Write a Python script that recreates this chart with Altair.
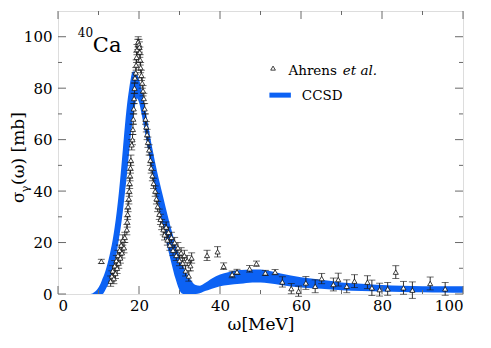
import altair as alt
import pandas as pd

# CCSD band (upper / lower edges)
band_x = [8, 8.5, 9, 9.5, 10, 10.5, 11, 11.5, 12, 12.5, 13, 13.5, 14, 14.5, 15, 15.5, 16, 16.5,
          17, 17.5, 18, 18.5, 19, 19.5, 20, 20.5, 21, 21.5, 22, 22.5, 23, 23.5, 24,
          25, 26, 27, 28, 29, 30, 31, 32, 33, 34, 35, 36, 37, 38,
          40, 42, 45, 48, 50, 52, 55,
          60, 65, 70, 75, 80, 85, 90, 95, 100]
band_hi = [0, 0.2, 0.8, 1.5, 2.5, 4, 6, 8, 10.5, 13.5, 17, 21, 26, 32, 39, 47, 56, 65,
           73, 79, 84, 86.5, 86.5, 85.5, 83.5, 80.5, 77, 72.5, 68, 63.5, 59, 55, 51,
           44, 37.5, 31, 25, 19.5, 14.5, 10.5, 7.5, 5, 3.5, 3.2, 4, 5, 6,
           7.6, 8.5, 9.3, 9.5, 9.5, 9, 8,
           6.5, 5.5, 4.5, 4, 3.5, 3.2, 3, 3, 3]
band_lo = [0, 0, 0, 0, 0, 0, 0, 1, 2.5, 4, 6, 9, 12, 16, 21, 26, 32, 39,
           46, 54, 62, 68, 73, 76, 74.5, 71, 67, 62.5, 58, 53.5, 49, 45, 41,
           33, 25.5, 18.5, 12, 6, 1.5, 0, 0, 0, 0, 0.3, 1, 1.5, 2,
           3, 3.5, 4, 4.5, 4.5, 4.2, 3.5,
           2.5, 2, 1.5, 1.2, 1, 0.8, 0.7, 0.6, 0.5]

# Ahrens et al. data
pt_x = [10.7,
        13.0, 13.3, 13.5, 13.8, 14.0, 14.2, 14.4, 14.6, 14.8, 15.0, 15.2, 15.4, 15.6, 15.8, 16.0, 16.3, 16.5,
        17.0, 17.1, 17.2, 17.3, 17.5, 17.6, 17.7, 17.8, 17.9, 18.0, 18.2,
        18.4, 18.5, 18.6, 18.7, 18.8, 18.9, 19.0,
        19.2, 19.3, 19.4, 19.5, 19.7, 19.8, 20.0, 20.1, 20.2, 20.3, 20.4, 20.6, 20.8,
        21.0, 21.2, 21.4, 21.6, 21.8, 22.0, 22.2, 22.5, 22.8, 23.0, 23.3, 23.6, 24.0, 24.3, 24.6,
        25.0, 25.3, 25.6, 26.0, 26.3, 26.7, 27.0, 27.3, 27.6, 28.0, 28.4, 28.8, 29.2, 29.6,
        30.0, 30.4, 30.8, 31.2, 31.5, 31.9, 32.3, 32.7, 33.0,
        36.8, 39.4, 40.9, 43.0, 44.2, 47.3, 49.0, 51.2, 53.6, 55.4, 57.6, 59.4, 61.2, 63.5,
        65.1, 68.0, 69.2, 71.3, 73.2, 76.4, 77.5, 79.4, 81.4, 83.4, 85.3, 87.5, 91.9, 95.6]
pt_y = [12.7,
        5, 7, 9, 6, 11, 8, 13, 10, 15, 12, 17, 14, 19, 16, 21, 18, 22,
        25, 28, 31, 34, 37, 40, 43, 46, 49, 52, 58,
        60, 64, 68, 72, 76, 80, 84,
        86, 89, 92, 95, 97, 98, 97, 96, 94, 91, 88, 85, 82,
        79, 76, 72, 68, 65, 62, 59, 56, 52, 49, 46, 43, 40, 37, 34,
        31, 29, 27, 25, 23, 26, 21, 24, 19, 22, 17, 20, 15, 18,
        13, 16, 12, 15, 9, 13, 7, 11, 14,
        15, 16.4, 10.8, 7.6, 8.6, 9.8, 11.8, 8.2, 8.5, 4.7, 2.1, 1.1, 4.3, 3.0,
        6.0, 3.7, 5.6, 3.0, 5.0, 4.6, 2.4, 1.7, 2.0, 8.5, 2.4, 1.5, 4.1, 2.0]
pt_err = [0.8] + [2.0] * 88 + \
         [1.3, 1.3, 1.0, 1.3, 1.0, 1.0, 1.0, 2.0, 2.0, 2.0, 2.5, 2.5, 2.0, 2.5,
          2.5, 2.5, 2.5, 2.5, 3.0, 2.5, 2.5, 2.5, 2.5, 3.2, 2.5, 2.5, 2.5, 2.5]

x_major = [0, 20, 40, 60, 80, 100]
x_minor = [10, 30, 50, 70, 90]
y_major = [0, 20, 40, 60, 80, 100]
y_minor = [10, 30, 50, 70, 90]

W, H = 405, 283
FONT = "DejaVu Serif"
BLUE = "#0c62f4"
FRAME = "#6a6a6a"

band = pd.DataFrame({"x": band_x, "y": band_hi, "y2": band_lo})
n = min(len(pt_x), len(pt_y), len(pt_err))
pts = pd.DataFrame({"x": pt_x[:n], "y": pt_y[:n], "e": pt_err[:n]})
pts["lo"] = pts["y"] - pts["e"]
pts["hi"] = pts["y"] + pts["e"]

xs = alt.Scale(domain=[0, 100], nice=False, zero=False)
ys = alt.Scale(domain=[0, 110], nice=False, zero=False)

AX = alt.Axis(values=x_major, ticks=False, domain=False, grid=False, labelFont=FONT,
              labelFontSize=15, labelColor="black", labelPadding=4, title="ω[MeV]",
              titleFont=FONT, titleFontSize=17, titleFontWeight="normal", titleColor="black",
              titlePadding=3, format="d")
AY = alt.Axis(values=y_major, ticks=False, domain=False, grid=False, labelFont=FONT,
              labelFontSize=15, labelColor="black", labelPadding=6, title=None, format="d")

base_band = alt.Chart(band).mark_area(color=BLUE, opacity=1, interpolate="monotone").encode(
    x=alt.X("x:Q", scale=xs, axis=AX),
    y=alt.Y("y:Q", scale=ys, axis=AY),
    y2="y2:Q",
)

err_line = alt.Chart(pts).mark_rule(color="#1a1a1a", strokeWidth=0.9).encode(
    x=alt.X("x:Q", scale=xs, axis=AX),
    y=alt.Y("lo:Q", scale=ys, axis=AY),
    y2="hi:Q",
)
cap_lo = alt.Chart(pts).mark_tick(color="#1a1a1a", orient="horizontal", size=7, thickness=0.9).encode(
    x=alt.X("x:Q", scale=xs, axis=AX),
    y=alt.Y("lo:Q", scale=ys, axis=AY),
)
cap_hi = alt.Chart(pts).mark_tick(color="#1a1a1a", orient="horizontal", size=7, thickness=0.9).encode(
    x=alt.X("x:Q", scale=xs, axis=AX),
    y=alt.Y("hi:Q", scale=ys, axis=AY),
)
markers = alt.Chart(pts).mark_point(shape="triangle-up", size=26, filled=True, fill="white",
                                    stroke="#111", strokeWidth=0.8, opacity=1).encode(
    x=alt.X("x:Q", scale=xs, axis=AX),
    y=alt.Y("y:Q", scale=ys, axis=AY),
)

xt_major = pd.DataFrame({"x": x_major})
xt_minor = pd.DataFrame({"x": x_minor})
yt_major = pd.DataFrame({"y": y_major})
yt_minor = pd.DataFrame({"y": y_minor})


def xticks(df, L):
    bot = alt.Chart(df).mark_rule(color=FRAME, strokeWidth=1).encode(
        x=alt.X("x:Q", scale=xs, axis=AX), y=alt.value(H), y2=alt.value(H - L))
    top = alt.Chart(df).mark_rule(color=FRAME, strokeWidth=1).encode(
        x=alt.X("x:Q", scale=xs, axis=AX), y=alt.value(0), y2=alt.value(L))
    return [bot, top]


def yticks(df, L):
    left = alt.Chart(df).mark_rule(color=FRAME, strokeWidth=1).encode(
        y=alt.Y("y:Q", scale=ys, axis=AY), x=alt.value(0), x2=alt.value(L))
    right = alt.Chart(df).mark_rule(color=FRAME, strokeWidth=1).encode(
        y=alt.Y("y:Q", scale=ys, axis=AY), x=alt.value(W), x2=alt.value(W - L))
    return [left, right]


ticks = xticks(xt_major, 8) + xticks(xt_minor, 4) + yticks(yt_major, 8) + yticks(yt_minor, 4)


def label(txt, size, x, y, style="normal", angle=0):
    return alt.Chart(pd.DataFrame({"t": [txt]})).mark_text(
        font=FONT, fontSize=size, fontStyle=style, align="left", baseline="alphabetic",
        color="black", angle=angle).encode(x=x, y=y, text="t:N")


# y-axis title built from pieces (sigma with subscript gamma)
ytitle = [
    label("σ", 17, alt.value(-34), alt.value(192), angle=270),
    label("γ", 11.5, alt.value(-29.5), alt.value(181.5), angle=270),
    label("(ω) [mb]", 17, alt.value(-34), alt.value(174), angle=270),
]

# annotations
ca = label("Ca", 21, alt.datum(8.6), alt.datum(94.0))
ca40 = label("40", 12, alt.datum(4.9), alt.datum(99.8))

leg_tri = alt.Chart(pd.DataFrame({"t": [1]})).mark_point(
    shape="triangle-up", size=22, filled=True, fill="white", stroke="#111", strokeWidth=0.8, opacity=1).encode(
    x=alt.datum(53.1), y=alt.datum(87.8))
leg_t1 = label("Ahrens", 13.5, alt.datum(56.9), alt.datum(85.3))
leg_t2 = label("et al.", 13.5, alt.datum(70.3), alt.datum(85.3), style="italic")
leg_bar = alt.Chart(pd.DataFrame({"t": [1]})).mark_rule(color=BLUE, strokeWidth=5).encode(
    x=alt.datum(52.2), x2=alt.datum(57.5), y=alt.datum(77.3))
leg_t3 = label("CCSD", 13.5, alt.datum(60.2), alt.datum(75.4))

chart = alt.layer(base_band, err_line, cap_lo, cap_hi, markers, *ticks, *ytitle,
                  ca, ca40, leg_tri, leg_t1, leg_t2, leg_bar, leg_t3).properties(
    width=W, height=H, autosize="none",
    padding={"left": 50, "top": 3, "right": 20, "bottom": 50},
).configure_view(stroke=FRAME, strokeWidth=1.2).configure(background="white")

chart.save("out.html", embed_options={"renderer": "svg", "actions": False})
